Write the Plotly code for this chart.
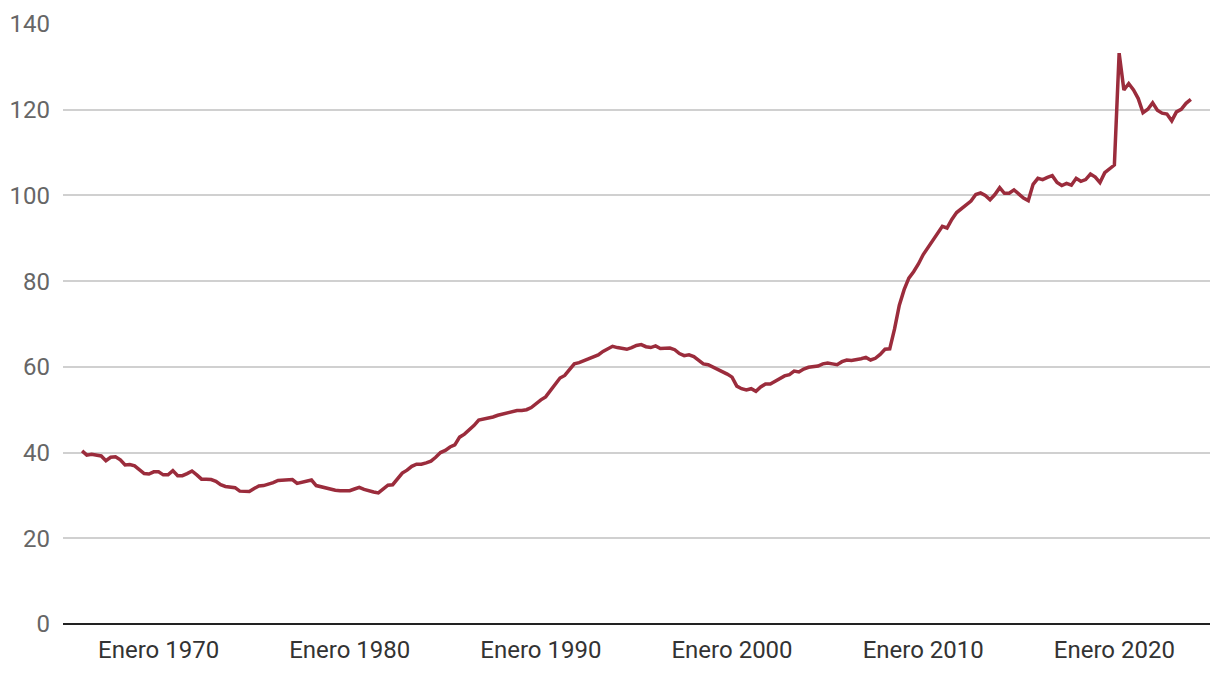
import plotly.graph_objects as go
import pandas as pd

start_year = 1966
values = [
    # 1966-1969
    40.4, 39.4, 39.6, 39.5,
    39.2, 38.1, 38.9, 39.0,
    38.3, 37.1, 37.2, 36.9,
    36.1, 35.1, 35.0, 35.5,
    # 1970-1979
    35.5, 34.8, 34.8, 35.8,
    34.6, 34.6, 35.1, 35.7,
    34.8, 33.8, 33.8, 33.7,
    33.3, 32.5, 32.1, 31.9,
    31.8, 31.0, 30.9, 30.9,
    31.6, 32.2, 32.3, 32.6,
    33.0, 33.5, 33.6, 33.7,
    33.7, 32.8, 33.0, 33.3,
    33.6, 32.3, 32.0, 31.8,
    31.5, 31.2, 31.1, 31.1,
    # 1980-1989
    31.1, 31.5, 31.9, 31.4,
    31.0, 30.8, 30.6, 31.5,
    32.4, 32.5, 34.0, 35.2,
    35.9, 36.8, 37.3, 37.3,
    37.6, 38.0, 38.9, 40.0,
    40.5, 41.3, 41.8, 43.6,
    44.3, 45.3, 46.3, 47.6,
    47.8, 48.1, 48.3, 48.7,
    49.0, 49.2, 49.5, 49.8,
    49.8, 50.0, 50.5, 51.5,
    # 1990-1999
    52.3, 53.0, 54.5, 56.2,
    57.4, 58.0, 59.3, 60.7,
    61.0, 61.5, 61.9, 62.3,
    62.8, 63.6, 64.2, 64.8,
    64.5, 64.2, 64.1, 64.5,
    65.0, 65.2, 64.7, 64.5,
    64.9, 64.3, 64.4, 64.4,
    64.0, 63.1, 62.6, 62.8,
    62.4, 61.6, 60.7, 60.5,
    60.0, 59.3, 58.8, 58.3,
    # 2000-2009
    57.6, 55.5, 54.9, 54.6,
    54.9, 54.3, 55.3, 56.0,
    56.0, 56.6, 57.4, 57.9,
    58.2, 59.0, 58.8, 59.5,
    59.9, 60.1, 60.2, 60.7,
    60.9, 60.7, 60.5, 61.2,
    61.6, 61.5, 61.6, 61.9,
    62.2, 61.6, 62.0, 62.9,
    64.1, 64.2, 68.8, 74.4,
    78.0, 80.7, 82.2, 84.0,
    # 2010-2019
    86.2, 87.8, 89.4, 91.3,
    92.8, 92.4, 94.4, 96.0,
    96.9, 97.7, 98.7, 100.2,
    100.6, 100.0, 99.0, 100.2,
    101.8, 100.5, 100.5, 101.3,
    100.4, 99.4, 98.8, 102.6,
    104.0, 103.7, 104.2, 104.6,
    103.0, 102.3, 102.8, 102.4,
    104.0, 103.3, 103.7, 105.0,
    104.3, 103.0, 105.3, 106.1,
    # 2020-2024
    107.1, 133.2, 124.6, 126.1,
    124.6, 122.6, 119.3, 120.1,
    121.6, 119.9, 119.2, 119.0,
    117.4, 119.5, 120.1, 121.5,
    122.4,
]

dates = pd.date_range(f"{start_year}-01-01", periods=len(values), freq="QS")

tick_years = [1970, 1980, 1990, 2000, 2010, 2020]
tick_vals = [f"{y}-01-01" for y in tick_years]
tick_text = [f"Enero {y}" for y in tick_years]
y_ticks = [0, 20, 40, 60, 80, 100, 120, 140]

fig = go.Figure()
fig.add_trace(go.Scatter(
    x=dates, y=values, mode="lines",
    line=dict(color="#9b2c3c", width=3.5),
    hoverinfo="x+y", showlegend=False,
))

fig.update_layout(
    width=1220, height=674,
    margin=dict(l=63, r=10, t=24, b=50),
    paper_bgcolor="white", plot_bgcolor="white",
    font=dict(family="Roboto", size=24, color="#333333"),
    xaxis=dict(
        type="date",
        range=["1965-01-01", "2025-01-01"],
        tickvals=tick_vals, ticktext=tick_text,
        showgrid=False, zeroline=False,
        showline=False, ticks="",
        tickfont=dict(color="#333333", size=24),
        ticklabelstandoff=9,
    ),
    yaxis=dict(
        range=[0, 140],
        tickvals=y_ticks,
        showgrid=True, gridcolor="#d0d0d0", gridwidth=1.5,
        zeroline=True, zerolinecolor="#222222", zerolinewidth=2,
        showline=False, ticks="",
        tickfont=dict(color="#666666", size=24),
        ticklabelstandoff=12,
    ),
)

fig.write_html("out.html")
